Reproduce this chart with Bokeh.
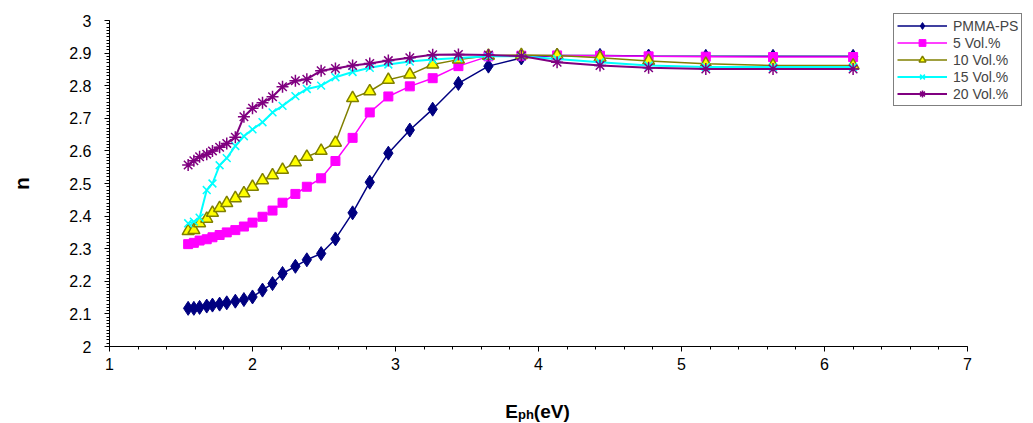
from bokeh.plotting import figure
from bokeh.models import (Range1d, Label, CustomJSTickFormatter, Legend, LegendItem,
                          SingleIntervalTicker)
from bokeh.embed import file_html
from bokeh.resources import INLINE

# photon energy (eV)
E_ph = [1.55, 1.59, 1.63, 1.68, 1.72, 1.77, 1.82, 1.88, 1.94, 2.00, 2.07, 2.14, 2.21, 2.30,
        2.38, 2.48, 2.58, 2.70, 2.82, 2.95, 3.10, 3.26, 3.44, 3.65, 3.88, 4.13, 4.43, 4.77,
        5.17, 5.64, 6.20]

pmma_ps = [2.117, 2.117, 2.120, 2.124, 2.127, 2.130, 2.134, 2.139, 2.144, 2.152, 2.173, 2.193,
           2.224, 2.246, 2.266, 2.285, 2.330, 2.410, 2.504, 2.593, 2.664, 2.728, 2.807, 2.860,
           2.885, 2.893, 2.893, 2.891, 2.890, 2.890, 2.890]
vol5 = [2.314, 2.318, 2.325, 2.329, 2.335, 2.342, 2.350, 2.357, 2.368, 2.380, 2.398, 2.417,
        2.441, 2.468, 2.490, 2.516, 2.569, 2.640, 2.718, 2.767, 2.798, 2.823, 2.860, 2.890,
        2.892, 2.893, 2.892, 2.890, 2.889, 2.888, 2.888]
vol10 = [2.354, 2.357, 2.378, 2.392, 2.410, 2.425, 2.440, 2.455, 2.470, 2.490, 2.510, 2.525,
         2.542, 2.565, 2.582, 2.600, 2.625, 2.762, 2.783, 2.818, 2.834, 2.865, 2.880, 2.892,
         2.894, 2.893, 2.886, 2.876, 2.867, 2.862, 2.862]
vol15 = [2.378, 2.383, 2.395, 2.480, 2.500, 2.556, 2.578, 2.615, 2.645, 2.666, 2.688, 2.718,
         2.738, 2.768, 2.790, 2.800, 2.826, 2.842, 2.855, 2.865, 2.874, 2.880, 2.885, 2.890,
         2.890, 2.882, 2.872, 2.862, 2.857, 2.857, 2.857]
vol20 = [2.557, 2.570, 2.582, 2.590, 2.600, 2.611, 2.623, 2.642, 2.705, 2.731, 2.748, 2.766,
         2.797, 2.815, 2.820, 2.846, 2.853, 2.862, 2.868, 2.877, 2.886, 2.895, 2.896, 2.894,
         2.891, 2.872, 2.862, 2.855, 2.851, 2.851, 2.851]

series_names = ["PMMA-PS", "5 Vol.%", "10 Vol.%", "15 Vol.%", "20 Vol.%"]
x_axis_bounds = (1, 7)
y_axis_bounds = (2, 3)
x_major_step = 1
y_major_step = 0.1

FONT = "Liberation Sans"
W, H = 1033, 423
# pixel layout of the plotting area (axes cross at x=1, y=2)
AX_LEFT, AX_RIGHT, AX_TOP, AX_BOTTOM = 109, 967, 20, 346
PX_X = (AX_RIGHT - AX_LEFT) / (x_axis_bounds[1] - x_axis_bounds[0])
PX_Y = (AX_BOTTOM - AX_TOP) / (y_axis_bounds[1] - y_axis_bounds[0])


def dx(px):
    return x_axis_bounds[0] + (px - AX_LEFT) / PX_X


def dy(py):
    return y_axis_bounds[0] + (AX_BOTTOM - py) / PX_Y


p = figure(width=W, height=H, output_backend="svg", toolbar_location=None,
           x_range=Range1d(dx(0), dx(W)), y_range=Range1d(dy(H), dy(0)),
           min_border=0, min_border_left=0, min_border_right=0,
           min_border_top=0, min_border_bottom=0,
           background_fill_color="white", border_fill_color="white")
p.outline_line_color = None
p.grid.visible = False

p.xaxis.ticker = SingleIntervalTicker(interval=x_major_step, num_minor_ticks=5)
p.yaxis.ticker = SingleIntervalTicker(interval=y_major_step, num_minor_ticks=10)
p.yaxis.formatter = CustomJSTickFormatter(code="return String(Number(tick.toFixed(2)));")
p.xaxis.fixed_location = y_axis_bounds[0]
p.yaxis.fixed_location = x_axis_bounds[0]
p.xaxis.bounds = x_axis_bounds
p.yaxis.bounds = y_axis_bounds
for ax in (p.xaxis[0], p.yaxis[0]):
    ax.axis_line_color = "black"
    ax.axis_line_width = 1
    ax.major_tick_line_color = "black"
    ax.minor_tick_line_color = "black"
    ax.major_tick_in = 0
    ax.major_tick_out = 5
    ax.minor_tick_in = 0
    ax.minor_tick_out = 3
    ax.major_label_text_font = FONT
    ax.major_label_text_font_size = "16px"
    ax.major_label_text_color = "black"
p.xaxis.major_label_standoff = 6
p.yaxis.major_label_standoff = 13

styles = [
    dict(data=pmma_ps, color="#000080", marker="diamond", fill="#000080", size=14, lw=1.5),
    dict(data=vol5, color="#FF00FF", marker="square", fill="#FF00FF", size=9, lw=1.5),
    dict(data=vol10, color="#808000", marker="triangle", fill="#FFFF00", size=12, lw=1.5),
    dict(data=vol15, color="#00FFFF", marker="x", fill="#00FFFF", size=11, lw=2),
    dict(data=vol20, color="#800080", marker="asterisk", fill="#800080", size=12, lw=2),
]

items = []
for name, s in zip(series_names, styles):
    ln = p.line(E_ph, s["data"], line_color=s["color"], line_width=s["lw"])
    mk = p.scatter(E_ph, s["data"], marker=s["marker"], size=s["size"],
                   fill_color=s["fill"], line_color=s["color"],
                   line_width=1.5 if s["marker"] in ("x", "asterisk", "triangle") else 1)
    items.append(LegendItem(label=name, renderers=[ln, mk]))

LEG_LEFT, LEG_TOP, ROW = 893, 15, 17
leg_h = 5 * ROW + 2 * 3
legend = Legend(items=items, location=(LEG_LEFT, H - LEG_TOP - leg_h), orientation="vertical",
                border_line_color="black", border_line_width=1,
                background_fill_color="white", background_fill_alpha=1,
                label_text_font=FONT, label_text_font_size="14px",
                glyph_width=50, glyph_height=ROW, label_height=ROW, spacing=0,
                padding=3, margin=0, label_standoff=6)
p.add_layout(legend)

# y axis label "n"
p.add_layout(Label(x=dx(21), y=dy((AX_TOP + AX_BOTTOM) / 2), text="n", angle=90,
                   angle_units="deg", text_font=FONT, text_font_size="21px",
                   text_font_style="bold", text_align="center", text_baseline="middle",
                   text_color="black"))

# x axis label E_ph(eV)
big, small = 19, 13
width_em = 0.667 * big + 1.222 * small + 1.889 * big
x0, base = 537 - width_em / 2, 411
p.add_layout(Label(x=dx(x0), y=dy(base), text="E", text_font=FONT,
                   text_font_size=f"{big}px", text_font_style="bold",
                   text_align="left", text_baseline="alphabetic", text_color="black"))
x1 = x0 + 0.667 * big
p.add_layout(Label(x=dx(x1), y=dy(base + 3), text="ph", text_font=FONT,
                   text_font_size=f"{small}px", text_font_style="bold",
                   text_align="left", text_baseline="alphabetic", text_color="black"))
x2 = x1 + 1.222 * small
p.add_layout(Label(x=dx(x2), y=dy(base), text="(eV)", text_font=FONT,
                   text_font_size=f"{big}px", text_font_style="bold",
                   text_align="left", text_baseline="alphabetic", text_color="black"))

open("out.html", "w").write(file_html(p, INLINE))
